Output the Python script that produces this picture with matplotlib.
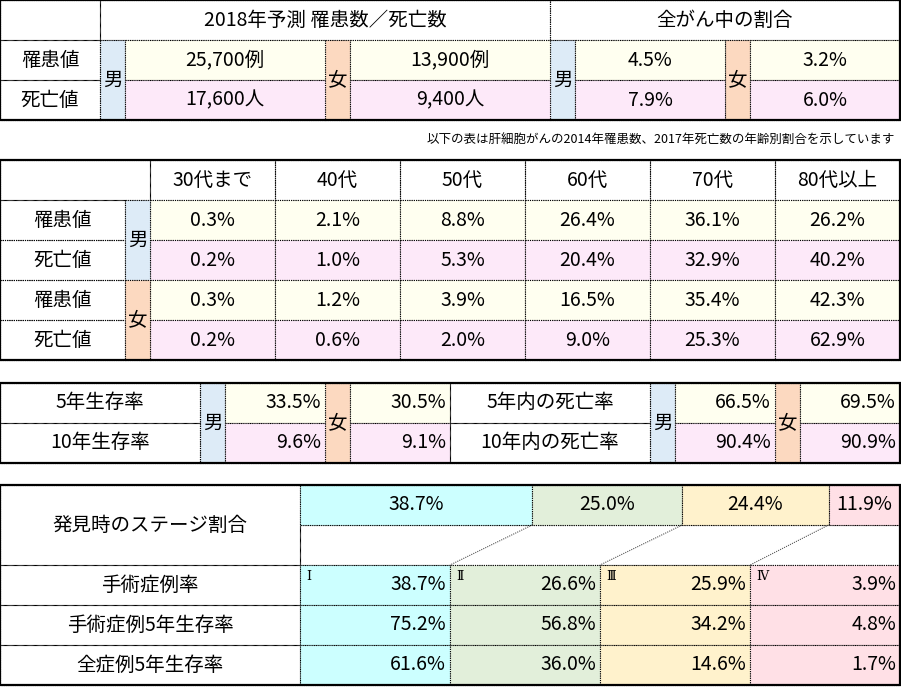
import matplotlib
matplotlib.use("Agg")
import matplotlib.pyplot as plt
from matplotlib.patches import Rectangle

plt.rcParams["font.family"] = ["Noto Sans CJK JP", "DejaVu Sans"]

# ---------------- data ----------------
top_title_left = "2018年予測 罹患数／死亡数"
top_title_right = "全がん中の割合"
row_labels = ["罹患値", "死亡値"]
male_counts = ["25,700例", "17,600人"]
female_counts = ["13,900例", "9,400人"]
male_share = [4.5, 7.9]
female_share = [3.2, 6.0]
note = "以下の表は肝細胞がんの2014年罹患数、2017年死亡数の年齢別割合を示しています"

age_groups = ["30代まで", "40代", "50代", "60代", "70代", "80代以上"]
male_incidence = [0.3, 2.1, 8.8, 26.4, 36.1, 26.2]
male_death = [0.2, 1.0, 5.3, 20.4, 32.9, 40.2]
female_incidence = [0.3, 1.2, 3.9, 16.5, 35.4, 42.3]
female_death = [0.2, 0.6, 2.0, 9.0, 25.3, 62.9]

surv_labels = ["5年生存率", "10年生存率"]
death_labels = ["5年内の死亡率", "10年内の死亡率"]
male_surv = [33.5, 9.6]
female_surv = [30.5, 9.1]
male_deathrate = [66.5, 90.4]
female_deathrate = [69.5, 90.9]

stage_names = ["Ⅰ", "Ⅱ", "Ⅲ", "Ⅳ"]
stage_share = [38.7, 25.0, 24.4, 11.9]
stage_row_labels = ["手術症例率", "手術症例5年生存率", "全症例5年生存率"]
surgery_rate = [38.7, 26.6, 25.9, 3.9]
surgery_5y = [75.2, 56.8, 34.2, 4.8]
all_5y = [61.6, 36.0, 14.6, 1.7]

# ---------------- style ----------------
C_M = "#DDEBF7"; C_F = "#FCD9C0"; C_Y = "#FFFFF0"; C_P = "#FDE9F9"
STAGE_C = ["#CCFFFF", "#E2EFDA", "#FFF2CC", "#FFE0E6"]
FS = 14

fig = plt.figure(figsize=(9.01, 6.87), dpi=100)
ax = fig.add_axes([0, 0, 1, 1])
ax.set_xlim(0, 901); ax.set_ylim(687, 0); ax.axis("off")

def cell(x0, y0, x1, y1, fc="none"):
    ax.add_patch(Rectangle((x0, y0), x1 - x0, y1 - y0, facecolor=fc, edgecolor="black",
                           lw=0.8, linestyle=(0, (1, 1))))

def outer(x0, y0, x1, y1):
    ax.add_patch(Rectangle((x0, y0), x1 - x0, y1 - y0, facecolor="none", edgecolor="black", lw=1.6))

def txt(x, y, s, ha="center", fs=FS, **kw):
    ax.text(x, y, s, ha=ha, va="center", fontsize=fs, **kw)

# ---------- table 1 ----------
cell(0, 0, 100, 40); cell(100, 0, 550, 40); cell(550, 0, 900, 40)
txt(325, 20, top_title_left); txt(725, 20, top_title_right)
for x0, x1, c, s in [(100, 125, C_M, "男"), (325, 350, C_F, "女"), (550, 575, C_M, "男"), (725, 750, C_F, "女")]:
    cell(x0, 40, x1, 120, c); txt((x0 + x1) / 2, 80, s)
for i in range(2):
    y0 = 40 + 40 * i; yc = y0 + 20; bg = C_Y if i == 0 else C_P
    cell(0, y0, 100, y0 + 40); txt(50, yc, row_labels[i])
    cell(125, y0, 325, y0 + 40, bg); txt(225, yc, male_counts[i])
    cell(350, y0, 550, y0 + 40, bg); txt(450, yc, female_counts[i])
    cell(575, y0, 725, y0 + 40, bg); txt(650, yc, f"{male_share[i]:.1f}%")
    cell(750, y0, 900, y0 + 40, bg); txt(825, yc, f"{female_share[i]:.1f}%")
outer(0, 0, 900, 120)
txt(895, 140, note, ha="right", fs=9)

# ---------- table 2 ----------
cell(0, 160, 150, 200)
for j, g in enumerate(age_groups):
    x0 = 150 + 125 * j
    cell(x0, 160, x0 + 125, 200); txt(x0 + 62.5, 180, g)
rows2 = [male_incidence, male_death, female_incidence, female_death]
for i, vals in enumerate(rows2):
    y0 = 200 + 40 * i; yc = y0 + 20; bg = C_Y if i % 2 == 0 else C_P
    cell(0, y0, 125, y0 + 40); txt(62.5, yc, row_labels[i % 2])
    for j, v in enumerate(vals):
        x0 = 150 + 125 * j
        cell(x0, y0, x0 + 125, y0 + 40, bg); txt(x0 + 62.5, yc, f"{v:.1f}%")
cell(125, 200, 150, 280, C_M); txt(137.5, 240, "男")
cell(125, 280, 150, 360, C_F); txt(137.5, 320, "女")
outer(0, 160, 900, 360)

# ---------- table 3 ----------
for x0, x1, c, s in [(200, 225, C_M, "男"), (325, 350, C_F, "女"), (650, 675, C_M, "男"), (775, 800, C_F, "女")]:
    cell(x0, 383, x1, 463, c); txt((x0 + x1) / 2, 423, s)
for i in range(2):
    y0 = 383 + 40 * i; yc = y0 + 20; bg = C_Y if i == 0 else C_P
    cell(0, y0, 200, y0 + 40); txt(100, yc, surv_labels[i])
    cell(225, y0, 325, y0 + 40, bg); txt(321, yc, f"{male_surv[i]:.1f}%", ha="right")
    cell(350, y0, 450, y0 + 40, bg); txt(446, yc, f"{female_surv[i]:.1f}%", ha="right")
    cell(450, y0, 650, y0 + 40); txt(550, yc, death_labels[i])
    cell(675, y0, 775, y0 + 40, bg); txt(771, yc, f"{male_deathrate[i]:.1f}%", ha="right")
    cell(800, y0, 900, y0 + 40, bg); txt(896, yc, f"{female_deathrate[i]:.1f}%", ha="right")
outer(0, 383, 900, 463)

# ---------- table 4 ----------
cell(0, 485, 300, 565); txt(150, 525, "発見時のステージ割合")
cell(300, 525, 900, 565)
total = sum(stage_share)
x = 300.0
for k, v in enumerate(stage_share):
    w = 600 * v / total
    cell(x, 485, x + w, 525, STAGE_C[k]); txt(x + w / 2, 505, f"{v:.1f}%")
    if k > 0:
        ax.plot([x, 300 + 150 * k], [525, 565], color="#555555", lw=0.8, linestyle=(0, (1, 1)))
    x += w
rows4 = [surgery_rate, surgery_5y, all_5y]
for i, vals in enumerate(rows4):
    y0 = 565 + 40 * i; yc = y0 + 20
    cell(0, y0, 300, y0 + 40); txt(150, yc, stage_row_labels[i])
    for k, v in enumerate(vals):
        x0 = 300 + 150 * k
        cell(x0, y0, x0 + 150, y0 + 40, STAGE_C[k]); txt(x0 + 146, yc, f"{v:.1f}%", ha="right")
        if i == 0:
            ax.text(x0 + 6, y0 + 12, stage_names[k], ha="left", va="center", fontsize=9,
                    family="DejaVu Serif")
outer(0, 485, 900, 685)

fig.savefig("out.png", dpi=100)
